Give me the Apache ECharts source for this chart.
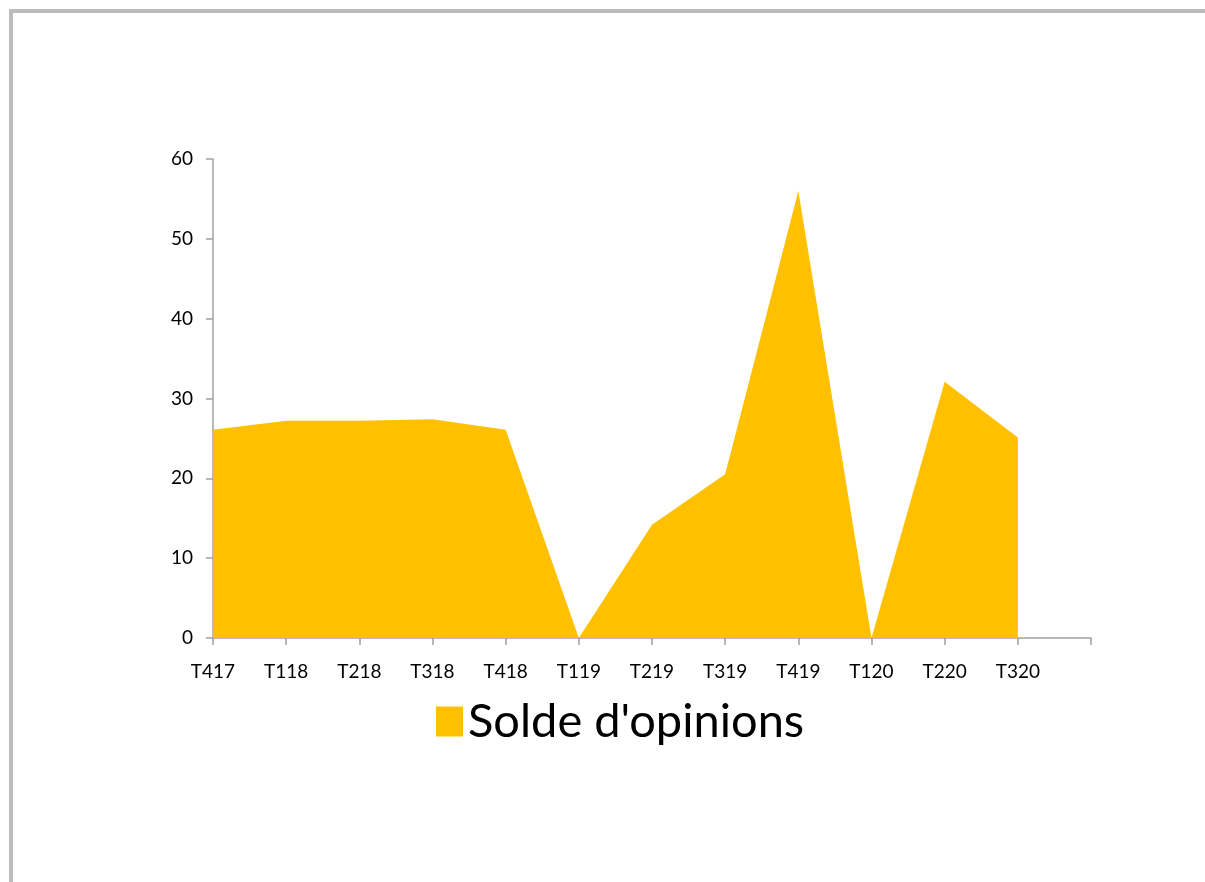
<!DOCTYPE html>
<html>
<head>
<meta charset="utf-8">
<script src="https://cdn.jsdelivr.net/npm/echarts@6/dist/echarts.min.js"></script>
<style>
    html, body { margin: 0; padding: 0; background: #fff; }
    #chart { width: 1205px; height: 882px; position: absolute; left: 0; top: 0; }
    .frame {
        position: absolute; left: 9px; top: 9px; right: 0; bottom: 0;
        border-left: 4px solid #bcbcbc; border-top: 4px solid #bcbcbc;
    }
</style>
</head>
<body>
<div class="frame"></div>
<div id="chart"></div>
<script>
const categories = ['T417', 'T118', 'T218', 'T318', 'T418', 'T119', 'T219', 'T319', 'T419', 'T120', 'T220', 'T320', '']
const soldeOpinions = [26.1, 27.2, 27.2, 27.4, 26.1, 0, 14.2, 20.5, 56, 0, 32.1, 25.1, null]
const yTicks = { min: 0, max: 60, interval: 10 }

const chart = echarts.init(document.getElementById('chart'))
const axisColor = '#a0a0a0'
const font = 'Lato, "Open Sans", sans-serif'

chart.setOption({
    animation: false,
    grid: {
        left: 213,
        right: 114,
        top: 159,
        bottom: 244
    },
    legend: {
        data: ['Solde d\'opinions'],
        left: 431,
        top: 693,
        itemWidth: 27,
        itemHeight: 30,
        itemGap: 14,
        icon: 'rect',
        textStyle: {
            fontFamily: font,
            fontSize: 47,
            color: '#000'
        }
    },
    xAxis: {
        type: 'category',
        data: categories,
        boundaryGap: false,
        axisLine: { lineStyle: { color: axisColor, width: 1.5 } },
        axisTick: { show: true, length: 7, lineStyle: { color: axisColor, width: 1.5 } },
        axisLabel: {
            interval: 0,
            margin: 24,
            color: '#000',
            fontFamily: font,
            fontSize: 19
        },
        splitLine: { show: false }
    },
    yAxis: {
        type: 'value',
        min: yTicks.min,
        max: yTicks.max,
        interval: yTicks.interval,
        axisLine: { show: true, lineStyle: { color: axisColor, width: 1.5 } },
        axisTick: { show: true, length: 7, lineStyle: { color: axisColor, width: 1.5 } },
        axisLabel: {
            margin: 20,
            color: '#000',
            fontFamily: font,
            fontSize: 19
        },
        splitLine: { show: false }
    },
    series: [
        {
            name: 'Solde d\'opinions',
            type: 'line',
            data: soldeOpinions,
            symbol: 'none',
            color: '#FFC000',
            lineStyle: { width: 0 },
            areaStyle: { color: '#FFC000', opacity: 1 },
            z: 1
        }
    ]
})
</script>
</body>
</html>
